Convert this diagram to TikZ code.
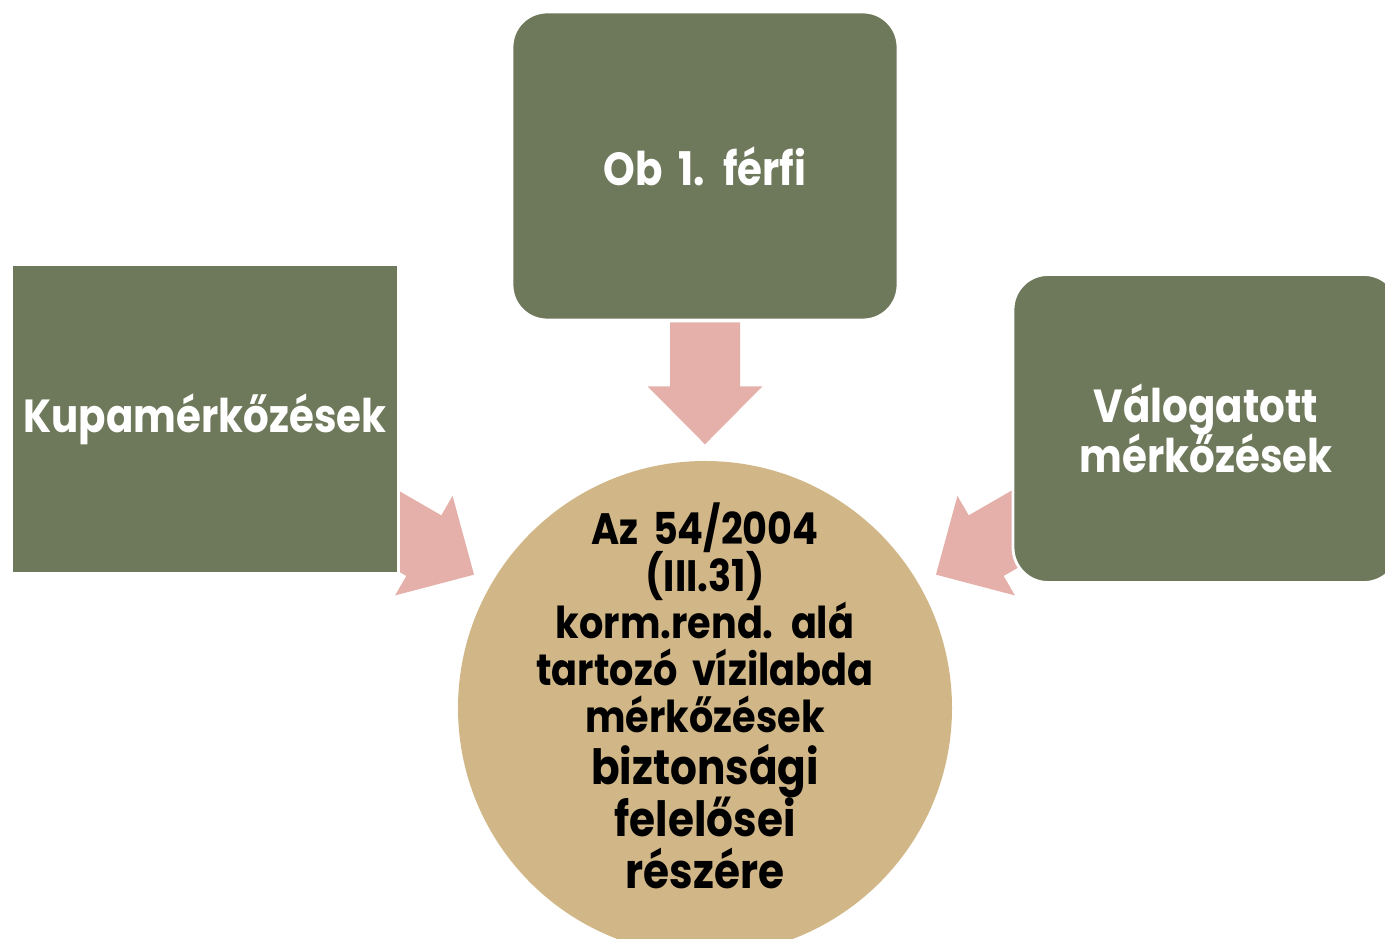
\documentclass[tikz,border=0pt]{standalone}
\usepackage{fontspec}
\newfontfamily\diagfont{Poppins}[FakeStretch=0.87, WordSpace=1.8]
\newcommand\tightlines{\lineskiplimit-20pt\relax}
\usetikzlibrary{calc,backgrounds}
\definecolor{boxgreen}{RGB}{110,120,90}
\definecolor{arrowpink}{RGB}{229,176,170}
\definecolor{hubtan}{RGB}{209,183,135}
\tikzset{
	sidebox/.style={fill=boxgreen, draw=white, line width=0.8pt, minimum width=3.86cm, minimum height=3.08cm, text=white, align=center, font=\diagfont\bfseries\fontsize{13.2}{14.2}\selectfont\tightlines},
	hubcircle/.style={circle, fill=hubtan, minimum size=4.94cm, inner sep=0pt},
	hubtext/.style={align=center, text=black, inner sep=0pt, font=\diagfont\bfseries\fontsize{12.5}{13.4}\selectfont\tightlines},
	pics/blockarrow/.style={code={
		\fill[arrowpink] (0,0) -- (-0.58,0.575) -- (-0.58,0.35) -- (-#1,0.35) -- (-#1,-0.35) -- (-0.58,-0.35) -- (-0.58,-0.575) -- cycle;
	}}
}
\begin{document}
\begin{tikzpicture}
	\useasboundingbox (0,0) rectangle (13.85,-9.39);
	\clip (0,0) rectangle (13.85,-9.39);
	%Hub
	\node[hubcircle] (hub) at (7.05,-7.08) {};
	\node[hubtext] (hubtext) at ($(hub)+(0,0.12)$) {Az 54/2004\\(III.31)\\korm.rend. alá\\tartozó vízilabda\\mérkőzések\\[1.4pt]{\fontsize{13.8}{14.8}\selectfont biztonsági}\\[1.4pt]{\fontsize{13.8}{14.8}\selectfont felelősei}\\[1.4pt]{\fontsize{13.8}{14.8}\selectfont részére}};
	%Boxes
	\node[sidebox] (cup) at (2.05,-4.19) {Kupamérkőzések};
	\node[sidebox, rounded corners=0.35cm] (league) at (7.05,-1.66) {Ob 1. férfi};
	\node[sidebox, rounded corners=0.35cm] (national) at (12.06,-4.285) {Válogatott\\mérkőzések};
	%Arrows
	\begin{scope}[on background layer]
		\pic[rotate=-90] at ($(hub.90)+(90:0.16)$) {blockarrow=1.22};
		\pic[rotate=-30] at ($(hub.150)+(150:0.19)$) {blockarrow=1.5};
		\pic[rotate=210] at ($(hub.30)+(30:0.19)$) {blockarrow=1.5};
	\end{scope}
\end{tikzpicture}
\end{document}
